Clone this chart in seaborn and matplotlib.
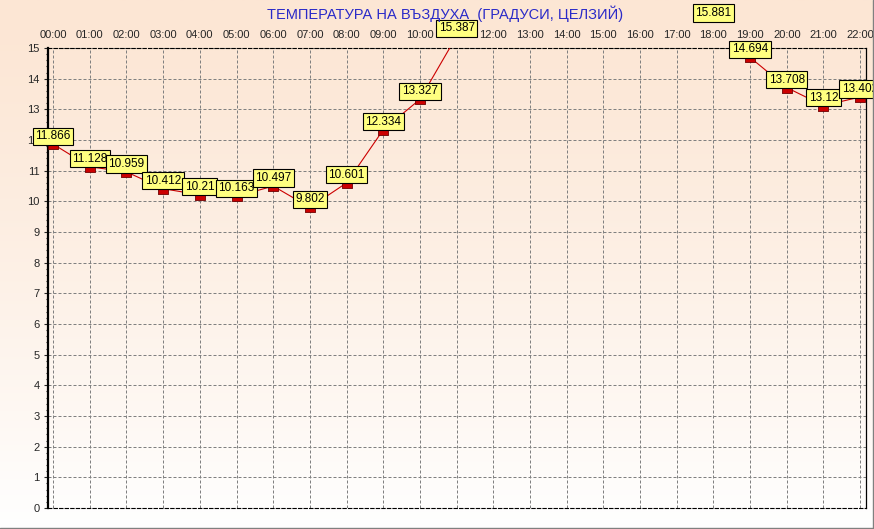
import numpy as np
import pandas as pd
import matplotlib
matplotlib.use('Agg')
import matplotlib.pyplot as plt
import seaborn as sns
from matplotlib.path import Path
from matplotlib.ticker import MultipleLocator
from matplotlib.lines import Line2D

# hourly air temperature; hours 12:00-17:00 are off the top of the chart
hours = list(range(23))
hour_labels = [f'{h:02d}:00' for h in hours]
temps = [11.866, 11.128, 10.959, 10.412, 10.21, 10.163, 10.497, 9.802,
         10.601, 12.334, 13.327, 15.387,
         np.nan, np.nan, np.nan, np.nan, np.nan, np.nan,
         15.881, 14.694, 13.708, 13.12, 13.402]
value_labels = ['11.866', '11.128', '10.959', '10.412', '10.21', '10.163',
                '10.497', '9.802', '10.601', '12.334', '13.327', '15.387',
                '', '', '', '', '', '',
                '15.881', '14.694', '13.708', '13.12', '13.402']
title = 'ТЕМПЕРАТУРА НА ВЪЗДУХА  (ГРАДУСИ, ЦЕЛЗИЙ)'

df = pd.DataFrame({'hour': hours, 'temp': temps})

sns.set_style('white')
plt.rcParams['font.family'] = ['Liberation Sans', 'DejaVu Sans']

W, H = 874, 529
fig = plt.figure(figsize=(W / 100, H / 100), dpi=100)

# background gradient (peach at top to white at bottom)
bg = fig.add_axes([0, 0, 1, 1], zorder=-10)
top_c = np.array([252, 230, 212]) / 255
bot_c = np.array([255, 255, 255]) / 255
t = np.linspace(0, 1, 256)[:, None] ** 1.3
grad = top_c[None, :] * (1 - t) + bot_c[None, :] * t
bg.imshow(grad[:, None, :], aspect='auto', extent=[0, 1, 0, 1])
bg.set_axis_off()

ax = fig.add_axes([48 / W, 21 / H, 818 / W, 460 / H])
ax.set_facecolor('none')

# small flat square hanging just below the data point
rect = Path([(-1.8, -1.8), (1.8, -1.8), (1.8, 0.2), (-1.8, 0.2), (-1.8, -1.8)])
sns.lineplot(data=df, x='hour', y='temp', ax=ax, color='#cc0000',
             linewidth=0.8, marker=rect, markersize=6.5,
             markerfacecolor='#cc0000', markeredgecolor='#700000',
             markeredgewidth=0.6, zorder=3)

for h, v, lab in zip(hours, temps, value_labels):
    if np.isnan(v):
        continue
    ax.annotate(lab, (h, v), xytext=(0, 8), textcoords='offset pixels',
                ha='center', va='center', fontsize=8.5, color='black',
                bbox=dict(boxstyle='square,pad=0.22', fc='#ffff80',
                          ec='black', lw=0.8),
                annotation_clip=False, zorder=5)

ax.set_xlim(-0.14, 22.16)
ax.set_ylim(0, 15)
ax.xaxis.tick_top()
ax.set_xticks(hours)
ax.set_xticklabels(hour_labels)
ax.yaxis.set_major_locator(MultipleLocator(1))
ax.yaxis.set_minor_locator(MultipleLocator(0.2))
ax.tick_params(axis='x', length=0, pad=5.5, labelsize=8)
ax.tick_params(axis='y', which='major', left=True, length=3, width=0.8,
               pad=3, labelsize=8, direction='out')
ax.tick_params(axis='y', which='minor', left=True, length=1.5, width=0.8,
               direction='out')
ax.set_xlabel('')
ax.set_ylabel('')

ax.grid(True, which='major', color='#808080', linestyle=(0, (3, 2)),
        linewidth=0.72)
ax.set_axisbelow(True)

ax.spines['left'].set_linewidth(1.6)
ax.spines['left'].set_color('black')
ax.spines['right'].set_linewidth(0.9)
ax.spines['right'].set_color('black')
for s in ('top', 'bottom'):
    ax.spines[s].set_color('black')
    ax.spines[s].set_linewidth(0.8)
    ax.spines[s].set_linestyle((0, (3, 2)))

fig.text(445 / W, 1 - 14 / H, title, color='#2a2ac8', fontsize=10.5,
         ha='center', va='center')

# thin gray picture border at the bottom and right
fig.add_artist(Line2D([0, 1], [1.5 / H, 1.5 / H], color='#808080', lw=1))
fig.add_artist(Line2D([1 - 1.5 / W, 1 - 1.5 / W], [0, 1], color='#808080', lw=1))

fig.savefig('out.png', dpi=100)
